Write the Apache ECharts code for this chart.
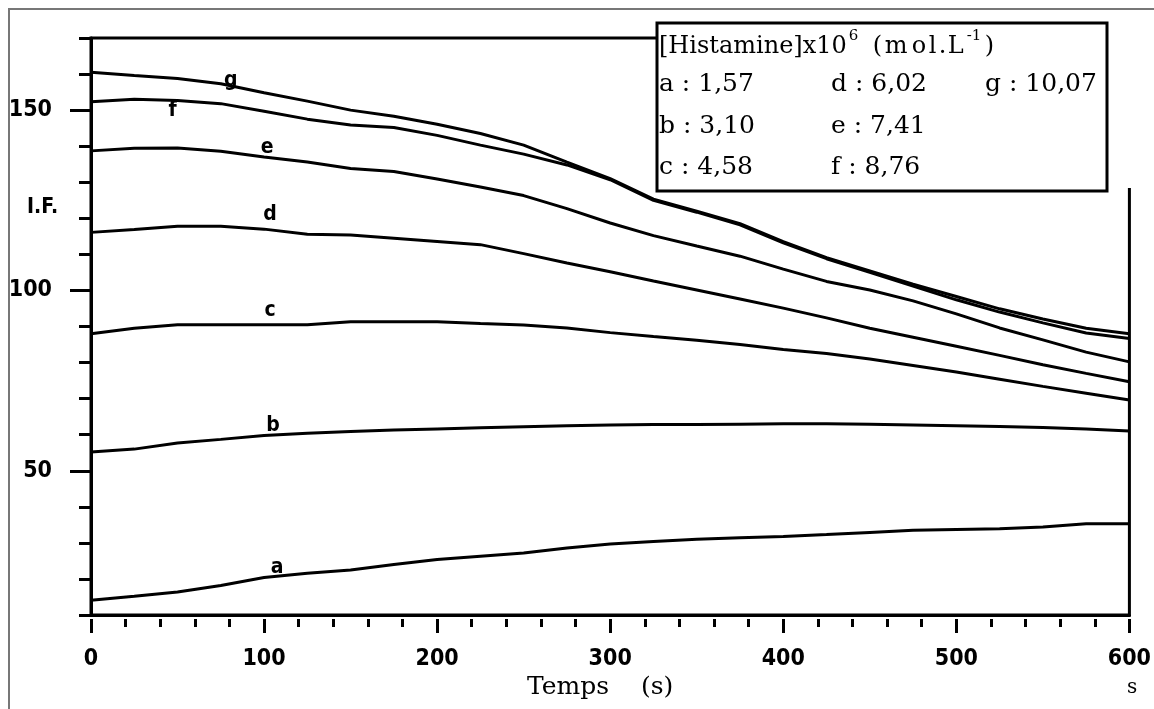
<!DOCTYPE html>
<html><head><meta charset="utf-8">
<script src="https://cdn.jsdelivr.net/npm/echarts@6/dist/echarts.min.js"></script>
<style>html,body{margin:0;padding:0;background:#fff}#c{width:1154px;height:709px}</style>
</head><body><div id="c"></div>
<script>
// ---- data ----
const times = [0,25,50,75,100,125,150,175,200,225,250,275,300,325,350,375,400,425,450,475,500,525,550,575,600];
const curveA = [14.1,15.2,16.4,18.2,20.4,21.6,22.5,24.0,25.4,26.3,27.2,28.6,29.7,30.4,31.0,31.4,31.8,32.3,32.9,33.5,33.7,33.9,34.4,35.3,35.3];
const curveB = [55.2,56.0,57.7,58.7,59.8,60.4,60.9,61.3,61.6,61.9,62.2,62.5,62.7,62.8,62.8,62.9,63.0,63.0,62.9,62.7,62.5,62.3,62.0,61.6,61.0];
const curveC = [88.0,89.5,90.5,90.5,90.5,90.5,91.3,91.3,91.3,90.8,90.4,89.6,88.3,87.2,86.2,85.0,83.6,82.5,81.0,79.2,77.4,75.4,73.4,71.5,69.6];
const curveD = [116.1,116.9,117.8,117.8,117.0,115.6,115.4,114.5,113.6,112.7,110.2,107.6,105.2,102.6,100.1,97.6,95.1,92.4,89.5,87.0,84.5,82.0,79.4,77.0,74.7];
const curveE = [138.7,139.4,139.5,138.6,137.0,135.6,133.8,133.0,130.9,128.7,126.3,122.7,118.7,115.2,112.3,109.5,105.9,102.5,100.1,97.1,93.5,89.6,86.3,82.9,80.2];
const curveF = [152.3,153.0,152.7,151.8,149.7,147.5,145.9,145.2,143.0,140.3,137.8,134.8,130.7,125.0,121.7,118.2,113.2,108.8,105.0,101.2,97.4,94.0,91.0,88.2,86.7];
const curveG = [160.5,159.6,158.8,157.3,154.8,152.5,150.0,148.3,146.1,143.5,140.3,135.6,131.0,125.3,122.0,118.5,113.5,109.1,105.4,101.7,98.3,94.9,92.1,89.5,88.0];
const curveNames = ['a','b','c','d','e','f','g'];
const concentrations = ['1,57','3,10','4,58','6,02','7,41','8,76','10,07'];
const labelTimes = [100,100,100,100,100,50,75];
const xTickLabels = [0,100,200,300,400,500,600];
const yTickLabels = [50,100,150];
const yMinorTicks = [10,20,30,40,60,70,80,90,110,120,130,140,160,170];
const legendTitle = '[Histamine]x10';
const legendExp = '6';
const legendUnit = '(mol.L';
const legendUnitExp = '-1';
const yName = 'I.F.';
const xName = 'Temps';
const xNameUnit = '(s)';
const xUnit = 's';

// ---- chart ----
const curves = [curveA,curveB,curveC,curveD,curveE,curveF,curveG];
// label placement styles (pixel nudges relative to the anchor point)
const labelPos = ['top','top','top','top','top','bottom','top'];
const labelDist = [-1,-1,3,4,-2,-1,-8];
const labelDx = [13,9,6,6,3,-5,10];
const SANS = '"DejaVu Sans Condensed","DejaVu Sans",sans-serif';
const SERIF = '"DejaVu Serif","Liberation Serif",serif';

const series = curves.map((arr, k) => ({
  type:'line', name: curveNames[k], xAxisIndex:0, yAxisIndex:0,
  showSymbol:false, symbol:'none', silent:true,
  lineStyle:{color:'#000', width:3},
  data: times.map((t,i) => [t, arr[i]])
}));
series.push({
  type:'scatter', xAxisIndex:0, yAxisIndex:0, silent:true,
  symbol:'circle', symbolSize:1, itemStyle:{color:'rgba(0,0,0,0)'},
  labelLayout: (p) => ({dx: labelDx[p.dataIndex], hideOverlap:false}),
  data: curves.map((arr, k) => ({
    value:[labelTimes[k], arr[times.indexOf(labelTimes[k])]],
    label:{show:true, formatter:curveNames[k], color:'#000', opacity:1,
      textBorderWidth:0, textBorderColor:'transparent',
      fontFamily:SANS, fontSize:21, fontWeight:'bold',
      position:labelPos[k], distance:labelDist[k]}
  })),
  z:5
});

// legend title, slightly tracked like the wide bitmap font of the original
const unitWidths = [12, 27, 17, 10, 9, 18];
const titleRich = {
  n:{fontFamily:SERIF, fontSize:24, lineHeight:30, verticalAlign:'bottom', fill:'#000'},
  s6:{fontFamily:SERIF, fontSize:15, lineHeight:14, verticalAlign:'top', fill:'#000', width:24, padding:[0,0,0,2]},
  s1:{fontFamily:SERIF, fontSize:15, lineHeight:14, verticalAlign:'top', fill:'#000', width:18, padding:[0,0,0,1]}
};
let titleText = '{n|' + legendTitle + '}{s6|' + legendExp + '}';
legendUnit.split('').forEach((ch, i) => {
  titleRich['u' + i] = {fontFamily:SERIF, fontSize:24, lineHeight:30, verticalAlign:'bottom', fill:'#000', width:unitWidths[i]};
  titleText += '{u' + i + '|' + ch + '}';
});
titleText += '{s1|' + legendUnitExp + '}{n|)}';

const legendRows = [[0,3,6],[1,4],[2,5]];
const rowY = [87, 129, 170];
const colX = [659, 831, 985];
const graphics = [
  {type:'rect', shape:{x:9, y:9, width:1170, height:730}, style:{fill:'none', stroke:'#777', lineWidth:2}, z:1},
  {type:'rect', shape:{x:656, y:14, width:490, height:174}, style:{fill:'#fff', stroke:'none'}, z:50},
  {type:'rect', shape:{x:657, y:23, width:450, height:168}, style:{fill:'#fff', stroke:'#000', lineWidth:3}, z:51},
  {type:'text', left:659, top:29, z:52, style:{text:titleText, rich:titleRich}},
  {type:'text', left:27, top:197, z:10, style:{text:yName, fontFamily:SANS, fontSize:21, fontWeight:'bold', fill:'#000'}},
  {type:'text', left:527, top:675, z:10, style:{text:xName, fontFamily:SERIF, fontSize:25, fill:'#000'}},
  {type:'text', left:641, top:675, z:10, style:{text:xNameUnit, fontFamily:SERIF, fontSize:25, fill:'#000'}},
  {type:'text', left:1127, top:678, z:10, style:{text:xUnit, fontFamily:SERIF, fontSize:20, fill:'#000'}}
];
legendRows.forEach((row, r) => row.forEach((k, c) => {
  graphics.push({type:'text', left:colX[c], top:rowY[r]-15, z:52,
    style:{text: curveNames[k] + ' : ' + concentrations[k], fontFamily:SERIF, fontSize:25, fill:'#000'}});
}));

const chart = echarts.init(document.getElementById('c'), null, {renderer:'canvas'});
chart.setOption({
  animation:false,
  backgroundColor:'#fff',
  grid:{left:91, right:21, top:38, bottom:94, show:true, borderColor:'#000', borderWidth:3, backgroundColor:'transparent'},
  xAxis:[
    {type:'value', min:0, max:600, interval:100, position:'bottom',
     axisLine:{show:true, onZero:false, lineStyle:{color:'#000', width:3}},
     axisTick:{show:false}, axisLabel:{show:false}, splitLine:{show:false}},
    {type:'value', min:0, max:600, interval:100, position:'bottom', offset:4, gridIndex:0,
     axisLine:{show:false, onZero:false},
     axisTick:{show:true, length:14, lineStyle:{color:'#000', width:3}, customValues:xTickLabels},
     minorTick:{show:true, splitNumber:5, length:8, lineStyle:{color:'#000', width:3}},
     axisLabel:{show:true, margin:29, color:'#000', fontFamily:SANS, fontSize:23, fontWeight:'bold', customValues:xTickLabels},
     splitLine:{show:false}}
  ],
  yAxis:[
    {type:'value', min:10, max:170, interval:10, position:'left',
     axisLine:{show:true, onZero:false, lineStyle:{color:'#000', width:3}},
     axisTick:{show:true, length:21, lineStyle:{color:'#000', width:3}, customValues:yTickLabels},
     axisLabel:{show:true, margin:39, color:'#000', fontFamily:SANS, fontSize:23, fontWeight:'bold', customValues:yTickLabels},
     splitLine:{show:false}},
    {type:'value', min:10, max:170, interval:10, position:'left', offset:0,
     axisLine:{show:false, onZero:false},
     axisTick:{show:true, length:12, lineStyle:{color:'#000', width:3}, customValues:yMinorTicks},
     axisLabel:{show:false}, splitLine:{show:false}}
  ],
  series: series,
  graphic: graphics
});
</script></body></html>
